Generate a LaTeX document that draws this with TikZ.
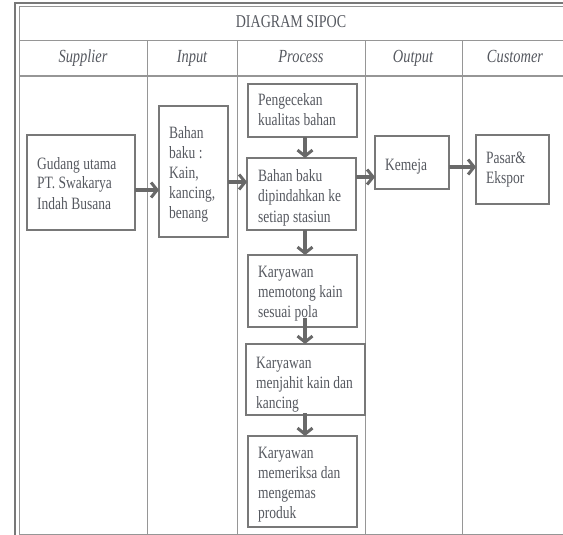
\documentclass[tikz,border=0pt]{standalone}
\usepackage{fontspec}
\setmainfont{Liberation Serif}[FakeStretch=0.78]
\usetikzlibrary{arrows.meta}
\definecolor{txtgray}{RGB}{85,88,95}
\definecolor{boxgray}{RGB}{120,120,120}
\definecolor{linegray}{RGB}{150,150,150}
\definecolor{arrgray}{RGB}{105,105,105}
\newcommand{\mylines}[1]{\begin{tabular}[t]{@{}l@{}}#1\end{tabular}}
\tikzset{
  box/.style={draw=boxgray, line width=1.1pt, anchor=north west, inner sep=0pt, outer sep=0pt},
  txt/.style={anchor=base west, inner sep=0pt, text=txtgray, font=\fontsize{17.3}{20}\selectfont},
  hdr/.style={anchor=base, inner sep=0pt, text=txtgray, font=\fontsize{18.5}{20}\selectfont\itshape},
  ttl/.style={anchor=base, inner sep=0pt, text=txtgray, font=\fontsize{18}{20}\selectfont},
  flow/.style={draw=arrgray, line width=3.5pt, -{Straight Barb[length=6pt, width=15pt, line width=3pt]}},
  grid/.style={draw=linegray, line width=1pt},
}
\begin{document}
\begin{tikzpicture}[x=1pt,y=-1pt]
\useasboundingbox (0,0) rectangle (563,535);
\clip (0,0) rectangle (563,535);
% frame
\draw[draw=boxgray, line width=1.2pt] (15,3) rectangle (600,560);
\draw[grid] (19,7) rectangle (596,534);
\draw[grid] (19,41) -- (596,41);
\draw[grid, line width=1.4pt] (19,76) -- (596,76);
\foreach \x in {147,237,365,462} \draw[grid] (\x,41) -- (\x,534);
% titles
\node[ttl] (title) at (291,28) {DIAGRAM SIPOC};
\node[hdr] (hs) at (83,63) {Supplier};
\node[hdr] (hi) at (192,63) {Input};
\node[hdr] (hp) at (301,63) {Process};
\node[hdr] (ho) at (413,63) {Output};
\node[hdr] (hc) at (515,63) {Customer};
% boxes
\node[box, minimum width=108pt, minimum height=95pt] (gud) at (27,135) {};
\node[box, minimum width=69pt, minimum height=131pt] (bin) at (159,106) {};
\node[box, minimum width=109pt, minimum height=53pt] (peng) at (248,84) {};
\node[box, minimum width=109pt, minimum height=72pt] (baku) at (247,158) {};
\node[box, minimum width=74pt, minimum height=53pt] (kem) at (375,136) {};
\node[box, minimum width=73pt, minimum height=69pt] (pas) at (476,135) {};
\node[box, minimum width=109pt, minimum height=72pt] (memo) at (248,255) {};
\node[box, minimum width=119pt, minimum height=71pt] (jahit) at (246,344) {};
\node[box, minimum width=109pt, minimum height=91pt] (periksa) at (248,436) {};
% texts
\node[txt] (tgud) at (37,169) {\mylines{Gudang utama\\PT. Swakarya\\Indah Busana}};
\node[txt] (tbin) at (169,139) {\mylines{Bahan\\baku :\\Kain,\\kancing,\\benang}};
\node[txt] (tpeng) at (258,106) {\mylines{Pengecekan\\kualitas bahan}};
\node[txt] (tbaku) at (258,182) {\mylines{Bahan baku\\dipindahkan ke\\setiap stasiun}};
\node[txt] (tkem) at (385,170) {Kemeja};
\node[txt] (tpas) at (486,164) {\mylines{Pasar\&\\Ekspor}};
\node[txt] (tmemo) at (258,277) {\mylines{Karyawan\\memotong kain\\sesuai pola}};
\node[txt] (tjahit) at (256,368) {\mylines{Karyawan\\menjahit kain dan\\kancing}};
\node[txt] (tperiksa) at (258,458) {\mylines{Karyawan\\memeriksa dan\\mengemas\\produk}};
% arrows
\draw[flow] (gud.east |- 0,190) -- (bin.west |- 0,190);
\draw[flow] (bin.east |- 0,182) -- (baku.west |- 0,182);
\draw[flow] (baku.east |- 0,177) -- (kem.west |- 0,177);
\draw[flow] (kem.east |- 0,167) -- (pas.west |- 0,167);
\draw[flow] (peng.south -| 305,0) -- (baku.north -| 305,0);
\draw[flow] (baku.south -| 305,0) -- (memo.north -| 305,0);
\draw[flow] ([yshift=9pt]memo.south -| 305,0) -- (jahit.north -| 305,0);
\draw[flow] ([yshift=2pt]jahit.south -| 305,0) -- (periksa.north -| 305,0);
\end{tikzpicture}
\end{document}
